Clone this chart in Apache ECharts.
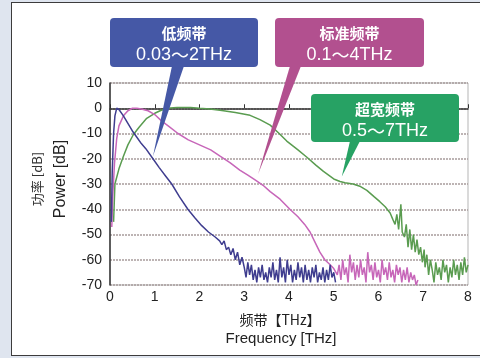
<!DOCTYPE html>
<html>
<head>
<meta charset="utf-8">
<script src="https://cdn.jsdelivr.net/npm/echarts@6/dist/echarts.min.js"></script>
<style>
  body { margin: 0; background: #dfe5ef; }
  #box { position: absolute; left: 11px; top: 2px; width: 480px; height: 352px; background: #fff; border: 1.5px solid #3c3c3c; }
  #main { position: absolute; left: 0; top: 0; width: 480px; height: 358px; }
</style>
</head>
<body>
<div id="box"></div>
<div id="main"></div>
<script>
// frequency [THz], power [dB]
var lowBand = [
  [0.03,-45],[0.05,-25],[0.08,-10],[0.11,-3],[0.15,0],[0.2,-0.5],[0.3,-3],[0.4,-6],[0.5,-9],
  [0.6,-11.5],[0.7,-14],[0.8,-16],[0.96,-20],[1.1,-23.5],[1.25,-27],[1.38,-30],[1.55,-35],
  [1.74,-40],[1.9,-43.5],[2.05,-46.5],[2.2,-49],[2.35,-51],[2.45,-52.5],[2.5,-54],[2.55,-52.5],
  [2.6,-56],[2.65,-55],[2.7,-58],[2.75,-55.5],[2.8,-60],[2.85,-57],[2.9,-62],[2.95,-59],
  [3.0,-63],[3.04,-67],[3.08,-61],[3.12,-66],[3.16,-62],[3.2,-68],[3.24,-64],[3.28,-69],
  [3.32,-63],[3.36,-67],[3.4,-62],[3.44,-68],[3.48,-65],[3.52,-69],[3.56,-63],[3.6,-67],
  [3.64,-61],[3.68,-68],[3.72,-64],[3.76,-69],[3.8,-59],[3.84,-67],[3.88,-63],[3.92,-69],
  [3.96,-60],[4.0,-66],[4.04,-62],[4.08,-69],[4.12,-64],[4.16,-68],[4.2,-61],[4.24,-67],
  [4.28,-63],[4.32,-69],[4.36,-62],[4.4,-68],[4.44,-64],[4.48,-69],[4.52,-63],[4.56,-67],
  [4.6,-62],[4.64,-69],[4.68,-65],[4.72,-68],[4.76,-63],[4.8,-69],[4.84,-64],[4.88,-68],
  [4.92,-62],[4.96,-67],[5.0,-65],[5.04,-69]
];
var midBand = [
  [0.04,-47],[0.06,-35],[0.1,-22],[0.15,-12],[0.2,-7],[0.3,-3],[0.4,-1],[0.5,0],[0.6,0],
  [0.7,-0.3],[0.85,-1],[1.0,-2.5],[1.15,-5],[1.3,-7],[1.52,-10],[1.75,-12.5],[2.0,-14.5],
  [2.25,-16.5],[2.46,-19],[2.68,-21.5],[2.9,-24.5],[3.08,-26.5],[3.25,-28.5],[3.42,-30.5],
  [3.58,-33],[3.8,-36],[4.02,-40],[4.2,-43],[4.35,-46],[4.47,-49],[4.58,-53],[4.69,-57],
  [4.8,-60],[4.92,-62],[5.0,-63.5],[5.08,-66],
  [5.12,-62],[5.16,-68],[5.2,-60],[5.24,-66],[5.28,-63],[5.32,-69],[5.36,-58],[5.4,-65],
  [5.44,-61],[5.48,-68],[5.52,-62],[5.56,-67],[5.6,-60],[5.64,-66],[5.68,-63],[5.72,-69],
  [5.76,-57],[5.8,-65],[5.84,-62],[5.88,-68],[5.92,-61],[5.96,-67],[6.0,-64],[6.04,-69],
  [6.08,-60],[6.12,-66],[6.16,-63],[6.2,-68],[6.24,-61],[6.28,-67],[6.32,-64],[6.36,-69],
  [6.4,-62],[6.44,-66],[6.48,-63],[6.52,-69],[6.56,-64],[6.6,-68],[6.64,-63],[6.68,-69],
  [6.72,-65],[6.76,-68],[6.8,-66],[6.84,-70],[6.88,-68]
];
var wideBand = [
  [0.08,-45],[0.11,-30],[0.2,-24],[0.3,-19],[0.4,-14.5],[0.52,-10.5],[0.65,-7.5],[0.82,-4],
  [1.0,-2],[1.12,-1],[1.27,0],[1.5,0.3],[1.8,0.3],[2.0,0],[2.23,-0.3],[2.46,-0.8],[2.8,-1.7],
  [3.13,-2.8],[3.35,-4.5],[3.58,-6.7],[3.78,-10],[3.95,-13],[4.2,-16.5],[4.4,-19.4],
  [4.6,-22.5],[4.77,-25],[5.0,-28],[5.14,-29],[5.25,-29.5],[5.43,-30],[5.6,-31],[5.74,-32.5],
  [5.9,-35],[6.03,-37],[6.15,-39],[6.26,-41.5],[6.32,-44],[6.37,-46],[6.41,-42],[6.45,-48],
  [6.5,-38],[6.53,-49],[6.58,-51],[6.62,-46],[6.66,-55],[6.7,-48],[6.74,-56],[6.78,-50],
  [6.82,-57],[6.86,-52],[6.9,-58],[6.94,-55],[6.98,-61],[7.02,-56],
  [7.04,-63],[7.08,-58],[7.12,-66],[7.16,-60],[7.2,-64],[7.24,-69],[7.28,-61],[7.32,-66],
  [7.36,-63],[7.4,-68],[7.44,-60],[7.48,-65],[7.52,-62],[7.56,-69],[7.6,-63],[7.64,-67],
  [7.68,-60],[7.72,-66],[7.76,-62],[7.8,-68],[7.84,-61],[7.88,-66],[7.92,-59],[7.96,-65],[8.0,-62]
];

// callout labels and the data point each pointer aims at
var calloutTitles = ['低频带', '标准频带', '超宽频带'];
var calloutFrom = ['0.03', '0.1', '0.5'];
var calloutTo = ['2THz', '4THz', '7THz'];
var calloutTargets = [[0.96, -19], [3.31, -26], [5.18, -27]];

var myChart = echarts.init(document.getElementById('main'));
var font = 'Liberation Sans, Arial, sans-serif';

var option = {
  animation: false,
  backgroundColor: 'transparent',
  grid: {
    left: 110, right: 12, top: 83, bottom: 73,
    show: true, borderColor: '#b5b5b5', borderWidth: 1
  },
  xAxis: {
    type: 'value', min: 0, max: 8, interval: 1,
    axisLine: { lineStyle: { color: '#333', width: 1.5 } },
    axisTick: { inside: true, length: 4, lineStyle: { color: '#333' } },
    axisLabel: { color: '#222', fontSize: 14, fontFamily: font, margin: 5 },
    splitLine: { show: false }
  },
  yAxis: {
    type: 'value', min: -70, max: 10, interval: 10,
    axisLine: { show: true, lineStyle: { color: '#333', width: 1.5 } },
    axisTick: { show: false },
    axisLabel: { color: '#222', fontSize: 14, fontFamily: font, margin: 8 },
    splitLine: { lineStyle: { color: '#a89c9c', width: 1.5, type: [2, 1] } }
  },
  series: [
    { type: 'line', data: lowBand, showSymbol: false, lineStyle: { color: '#3f3d8f', width: 1.5 }, z: 4 },
    { type: 'line', data: midBand, showSymbol: false, lineStyle: { color: '#c766b9', width: 1.5 }, z: 3 },
    { type: 'line', data: wideBand, showSymbol: false, lineStyle: { color: '#5a9c50', width: 1.5 }, z: 2 }
  ]
};
myChart.setOption(option);

// callout boxes; pointers aim at data points converted through the axes
var boxes = [
  { x: 110, y: 18, w: 148, h: 49, color: '#4558a6', base: [172, 184] },
  { x: 275, y: 18, w: 149, h: 49, color: '#b2508f', base: [290, 301] },
  { x: 311, y: 94, w: 148, h: 48, color: '#27a264', base: [350, 360] }
];
var graphics = [
  { type: 'text', left: 31, top: 'middle', rotation: Math.PI / 2, style: { text: '功率 [dB]', font: '13px "Noto Sans CJK SC", sans-serif', fill: '#333' } },
  { type: 'text', left: 53, top: 'middle', rotation: Math.PI / 2, style: { text: 'Power [dB]', font: '16px ' + font, fill: '#222' } },
  { type: 'text', x: 280, y: 320, style: { text: '频带【THz】', font: '14px "Noto Sans CJK SC", sans-serif', fill: '#222', align: 'center', verticalAlign: 'middle' } },
  { type: 'text', x: 281, y: 339, style: { text: 'Frequency [THz]', font: '15px ' + font, fill: '#222', align: 'center', verticalAlign: 'middle' } }
];
boxes.forEach(function (b, i) {
  var tip = myChart.convertToPixel({ gridIndex: 0 }, calloutTargets[i]);
  graphics.push({
    type: 'polygon', z: 100,
    shape: { points: [[b.base[0], b.y + b.h - 1], [b.base[1], b.y + b.h - 1], tip] },
    style: { fill: b.color }
  });
  graphics.push({
    type: 'rect', z: 100,
    shape: { x: b.x, y: b.y, width: b.w, height: b.h, r: 4 },
    style: { fill: b.color }
  });
  graphics.push({
    type: 'text', z: 101, x: b.x + b.w / 2, y: b.y + 15,
    style: { text: calloutTitles[i], font: 'bold 15px "Noto Sans CJK SC", sans-serif', fill: '#fff', align: 'center', verticalAlign: 'middle' }
  });
  graphics.push({
    type: 'text', z: 101, x: b.x + b.w / 2, y: b.y + 37,
    style: {
      text: '{n|' + calloutFrom[i] + '}{t|～}{n|' + calloutTo[i] + '}',
      fill: '#fff', align: 'center', verticalAlign: 'middle',
      rich: {
        n: { fontSize: 18, fontFamily: font, fill: '#fff' },
        t: { fontSize: 18, fontFamily: '"Noto Sans CJK SC"', fill: '#fff' }
      }
    }
  });
});
myChart.setOption({ graphic: graphics });
</script>
</body>
</html>
